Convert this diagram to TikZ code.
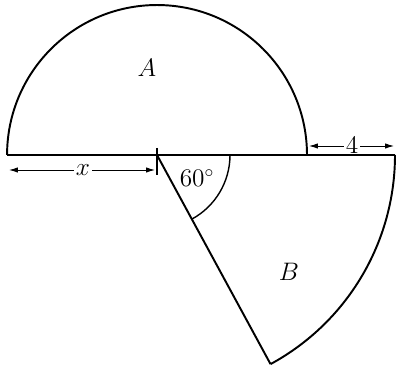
\documentclass[tikz,border=0pt]{standalone}
\usepackage{amsmath, amssymb}
\usepackage{tikz}
\usetikzlibrary{arrows.meta, positioning, calc}

\begin{document}
\begin{tikzpicture}[x=0.02cm, y=0.02cm, >=Latex, line width=1.1pt]
        \useasboundingbox (0,0) rectangle (397,382);
        \tikzset{dim/.style={<->, line width=0.5pt, >={Latex[length=5pt,width=3pt]}},
                 lbl/.style={font=\Large}}

        \coordinate (O) at (157,227);
        \coordinate (L) at (7,227);
        \coordinate (R) at (307,227);
        \coordinate (E) at (395,227);
        \coordinate (P) at ($(O)+(-61.5:238)$);
        \coordinate (Q) at ($(O)+(73,0)$);

        % semicircle A and sector B
        \draw (R) arc[start angle=0, end angle=180, radius=3cm];
        \draw (O) -- (P);
        \draw (E) arc[start angle=0, end angle=-61.5, radius=4.76cm];
        \draw[line width=0.8pt] (Q) arc[start angle=0, end angle=-61.5, radius=1.46cm];
        \draw[line width=0.6pt] ($(O)+(0,7)$) -- ($(O)+(0,-20)$);

        \node[lbl] (A) at (147,314) {$A$};
        \node[lbl] (B) at (289,110) {$B$};
        \node[lbl] (ang) at (197,204) {$60^\circ$};

        % dimensions
        \coordinate (x1) at (9,212);
        \coordinate (x2) at (155,212);
        \coordinate (f1) at (309,236);
        \coordinate (f2) at (394,236);
        \draw[dim] (x1) -- (x2);
        \draw[dim] (f1) -- (f2);
        \node[lbl, fill=white, inner sep=1pt] (x) at (83,212) {$x$};
        \node[lbl, fill=white, inner sep=1pt] (four) at (352,237) {$4$};

        \draw (L) -- (E);
    \end{tikzpicture}
\end{document}
